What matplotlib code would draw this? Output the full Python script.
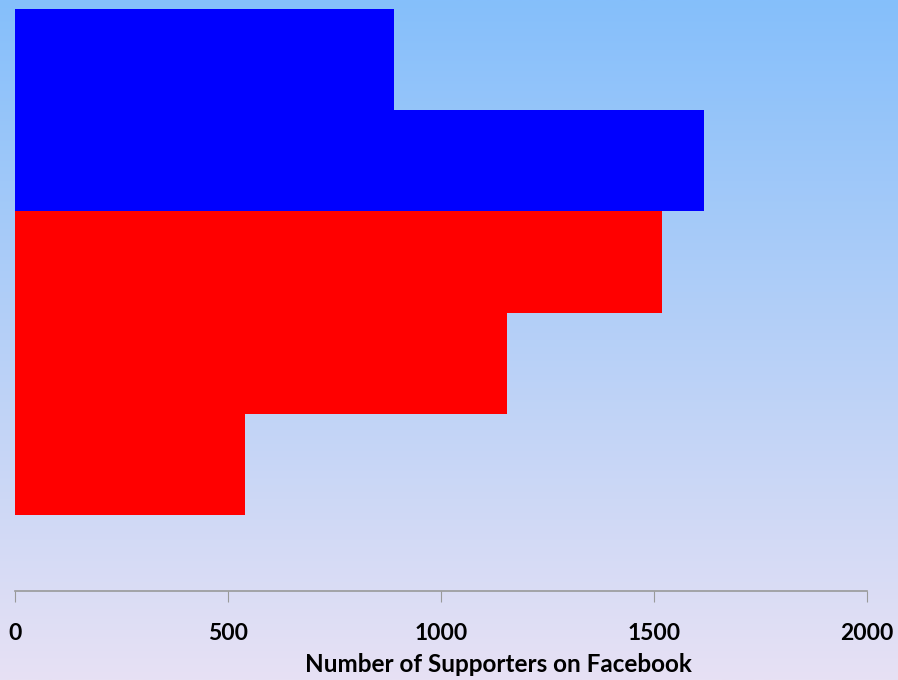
import numpy as np
import matplotlib
matplotlib.use("Agg")
import matplotlib.pyplot as plt
from matplotlib.colors import LinearSegmentedColormap

# bars listed top to bottom
supporters = [890, 1618, 1519, 1154, 539]
bar_colors = ['#0000ff', '#0000ff', '#ff0000', '#ff0000', '#ff0000']
xticks = [0, 500, 1000, 1500, 2000]

plt.rcParams['font.family'] = ['Lato', 'DejaVu Sans']

fig = plt.figure(figsize=(8.98, 6.80), dpi=100)

# gradient background over whole figure
bg = fig.add_axes([0, 0, 1, 1], zorder=0)
cmap = LinearSegmentedColormap.from_list('bg', ['#85bffb', '#e7e1f4'])
grad = np.linspace(0, 1, 256).reshape(-1, 1)
bg.imshow(grad, aspect='auto', cmap=cmap, extent=[0, 1, 0, 1])
bg.axis('off')

ax = fig.add_axes([0.0167, 0.1309, 0.9488, 0.8559], zorder=1)
ax.patch.set_alpha(0)

n = len(supporters)
ypos = np.arange(n)[::-1]
ax.barh(ypos, supporters, height=1.0, color=bar_colors, linewidth=0)

ax.set_xlim(0, 2000)
ax.set_ylim(-1.25, n - 0.5)
ax.set_yticks([])
ax.set_xticks(xticks)
ax.set_xticklabels([str(t) for t in xticks], fontsize=16.5, fontweight='bold')
ax.tick_params(axis='x', direction='out', length=8, color='#999999', pad=15)

for s in ['top', 'right', 'left']:
    ax.spines[s].set_visible(False)
ax.spines['bottom'].set_color('#999999')
ax.spines['bottom'].set_linewidth(1.2)

ax.set_xlabel('Number of Supporters on Facebook', fontsize=17.5, fontweight='bold',
              ha='center', va='center')
# label sits right of the axis centre in the original
ax.xaxis.set_label_coords(0.567, -0.126)

fig.savefig('out.png', dpi=100)
